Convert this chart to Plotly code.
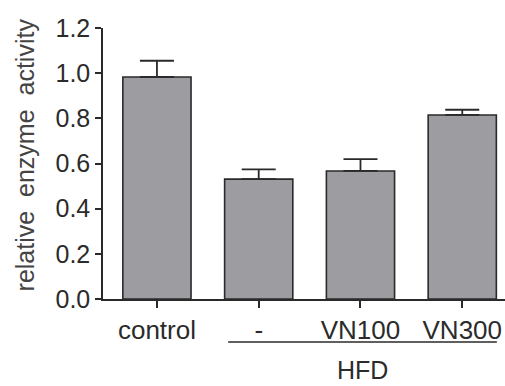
import plotly.graph_objects as go

categories = ["control", "-", "VN100", "VN300"]
values = [0.983, 0.531, 0.567, 0.815]
errors = [0.072, 0.043, 0.052, 0.023]
y_ticks = [0.0, 0.2, 0.4, 0.6, 0.8, 1.0, 1.2]
y_tick_labels = ["0.0", "0.2", "0.4", "0.6", "0.8", "1.0", "1.2"]
group_label = "HFD"
group_members = ["-", "VN100", "VN300"]
y_title = "relative  enzyme  activity"

FONT = "Liberation Sans, Arial, sans-serif"
idx = list(range(len(categories)))

fig = go.Figure()
fig.add_trace(go.Bar(
    x=idx, y=values,
    width=0.67,
    marker=dict(color="#9d9da1", line=dict(color="#2a2a2a", width=1.6)),
    error_y=dict(type="data", array=errors, arrayminus=[0] * len(errors),
                 symmetric=False, color="#2a2a2a", thickness=1.8, width=17),
))

first = categories.index(group_members[0])
last = categories.index(group_members[-1])
fig.add_shape(type="line", xref="x", yref="paper",
              x0=first - 0.30, x1=last + 0.34, y0=-0.159, y1=-0.159,
              line=dict(color="#2a2a2a", width=1.5))
fig.add_annotation(text=group_label, xref="x", yref="paper",
                   x=(first - 0.30 + last + 0.34) / 2, y=-0.262,
                   showarrow=False, font=dict(family=FONT, size=25, color="#2b2b2b"),
                   yanchor="middle")
fig.add_annotation(text=y_title, xref="paper", yref="paper",
                   x=-0.195, y=0.532, textangle=-90, showarrow=False,
                   font=dict(family=FONT, size=25, color="#444"),
                   xanchor="center", yanchor="middle")

fig.update_layout(
    width=505, height=386,
    margin=dict(l=103, r=0, t=28, b=87),
    paper_bgcolor="white", plot_bgcolor="white",
    showlegend=False,
    bargap=0.33,
    xaxis=dict(range=[-0.53, 3.42], tickmode="array", tickvals=idx, ticktext=categories,
               showline=True, linecolor="#2a2a2a", linewidth=1.5,
               ticks="outside", ticklen=7, tickwidth=1.5, tickcolor="#2a2a2a",
               tickfont=dict(family=FONT, size=26, color="#2b2b2b"),
               showgrid=False, zeroline=False, fixedrange=True),
    yaxis=dict(range=[0, 1.2], tickmode="array", tickvals=y_ticks, ticktext=y_tick_labels,
               showline=True, linecolor="#2a2a2a", linewidth=1.5,
               ticks="outside", ticklen=6, tickwidth=1.5, tickcolor="#2a2a2a",
               tickfont=dict(family=FONT, size=25, color="#2b2b2b"),
               showgrid=False, zeroline=False, fixedrange=True),
)

fig.write_html("out.html", config={"displayModeBar": False},
               post_script="document.body.style.margin='0';document.body.style.padding='0';")
